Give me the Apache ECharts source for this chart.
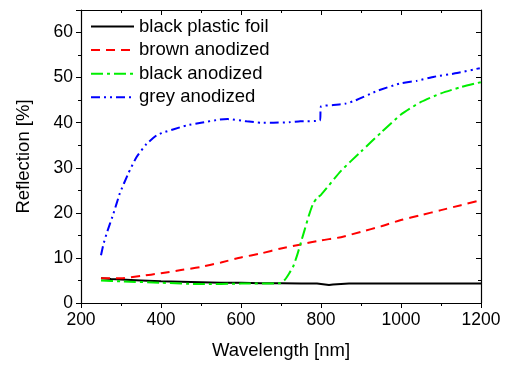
<!DOCTYPE html>
<html>
<head>
<meta charset="utf-8">
<script src="https://cdn.jsdelivr.net/npm/echarts@6/dist/echarts.min.js"></script>
<style>
  html, body { margin: 0; padding: 0; background: #fff; }
  #chart { width: 508px; height: 365px; }
</style>
</head>
<body>
<div id="chart"></div>
<script>
// 图例名称
var seriesNames = ['black plastic foil', 'brown anodized', 'black anodized', 'grey anodized'];

// black plastic foil
var foilX = [250, 275, 300, 350, 400, 450, 500, 550, 600, 650, 700, 750, 790, 800, 805, 810, 820, 830, 850, 870, 900, 950, 1000, 1050, 1100, 1150, 1200];
var foilY = [5.5, 5.3, 5.2, 5.0, 4.8, 4.7, 4.6, 4.5, 4.5, 4.4, 4.4, 4.3, 4.3, 4.2, 4.0, 4.1, 4.0, 4.1, 4.2, 4.3, 4.3, 4.3, 4.3, 4.3, 4.3, 4.3, 4.3];

// brown anodized
var brownX = [250, 300, 350, 400, 450, 500, 550, 600, 650, 700, 750, 800, 850, 900, 950, 1000, 1050, 1100, 1150, 1200];
var brownY = [5.5, 5.5, 6.0, 6.6, 7.3, 8.0, 9.0, 10.1, 11.0, 12.1, 13.0, 13.9, 14.6, 15.8, 17.0, 18.4, 19.5, 20.6, 21.7, 22.8];

// black anodized
var blackX = [250, 300, 400, 500, 600, 700, 710, 720, 730, 740, 750, 760, 770, 780, 790, 800, 850, 900, 950, 1000, 1050, 1100, 1150, 1200];
var blackY = [5.0, 4.8, 4.5, 4.2, 4.3, 4.4, 5.2, 6.5, 8.0, 10.5, 13.5, 16.5, 19.5, 22.0, 23.3, 24.0, 29.3, 33.6, 37.8, 41.8, 44.6, 46.5, 47.9, 49.0];

// grey anodized
var greyX = [250, 256, 264, 281, 297, 318, 339, 364, 389, 405, 430, 464, 500, 547, 567, 614, 650, 681, 720, 748, 797, 800, 831, 860, 885, 939, 997, 1040, 1083, 1140, 1197];
var greyY = [10.6, 13.0, 15.4, 19.8, 24.3, 28.7, 32.4, 35.3, 37.2, 37.8, 38.5, 39.4, 40.0, 40.7, 40.8, 40.3, 40.0, 40.0, 40.1, 40.3, 40.5, 43.6, 43.9, 44.2, 44.9, 47.0, 48.7, 49.3, 50.2, 51.0, 52.1];

// 坐标轴刻度
var xTicks = { min: 200, max: 1200, interval: 200 };
var yTicks = { min: 0, max: 65, interval: 10 };

function pairs(xs, ys) {
	var out = [];
	for (var i = 0; i < xs.length; i++) {
		out.push([xs[i], ys[i]]);
	}
	return out;
}

var myChart = echarts.init(document.getElementById('chart'), null, { renderer: 'canvas' });

var font = 'Liberation Sans, Arial, sans-serif';
var axisLine = { show: true, onZero: false, lineStyle: { color: '#000', width: 1.2 } };
// 不要千分位
var plain = function (v) { return String(v); };

var option = {
	animation: false,
	backgroundColor: '#fff',
	textStyle: { fontFamily: font, color: '#000' },
	grid: { left: 81, right: 27, top: 10, bottom: 62 },
	legend: {
		orient: 'vertical',
		left: 90,
		top: 17,
		padding: 0,
		itemWidth: 43,
		itemHeight: 14,
		itemGap: 4.6,
		itemStyle: { opacity: 0 },
		textStyle: { fontSize: 18.5, fontFamily: font, color: '#000' },
		data: seriesNames
	},
	xAxis: [{
		type: 'value',
		min: xTicks.min, max: xTicks.max, interval: xTicks.interval,
		name: 'Wavelength [nm]',
		nameLocation: 'middle',
		nameGap: 38,
		nameTextStyle: { fontSize: 18.5, fontFamily: font, color: '#000' },
		axisLine: axisLine,
		axisTick: { show: true, length: 5, lineStyle: { color: '#000' } },
		minorTick: { show: true, splitNumber: 2, length: 3, lineStyle: { color: '#000' } },
		axisLabel: { fontSize: 17.5, margin: 8, color: '#000', fontFamily: font, formatter: plain },
		splitLine: { show: false }
	}, {
		type: 'value',
		position: 'top',
		min: xTicks.min, max: xTicks.max, interval: xTicks.interval,
		axisLine: axisLine,
		axisTick: { show: true, inside: true, length: 5, lineStyle: { color: '#000' } },
		minorTick: { show: true, splitNumber: 2, length: 3, lineStyle: { color: '#000' } },
		axisLabel: { show: false },
		splitLine: { show: false }
	}],
	yAxis: [{
		type: 'value',
		min: yTicks.min, max: yTicks.max, interval: yTicks.interval,
		name: 'Reflection [%]',
		nameLocation: 'middle',
		nameGap: 48,
		nameTextStyle: { fontSize: 18.5, fontFamily: font, color: '#000' },
		axisLine: axisLine,
		axisTick: { show: true, length: 5, lineStyle: { color: '#000' } },
		minorTick: { show: true, splitNumber: 2, length: 3, lineStyle: { color: '#000' } },
		axisLabel: { fontSize: 17.5, margin: 8, color: '#000', fontFamily: font, showMaxLabel: false, formatter: plain },
		splitLine: { show: false }
	}, {
		type: 'value',
		position: 'right',
		min: yTicks.min, max: yTicks.max, interval: yTicks.interval,
		axisLine: axisLine,
		axisTick: { show: true, inside: true, length: 5, lineStyle: { color: '#000' } },
		minorTick: { show: true, splitNumber: 2, length: 3, lineStyle: { color: '#000' } },
		axisLabel: { show: false },
		splitLine: { show: false }
	}],
	series: [{
		name: seriesNames[0],
		type: 'line',
		symbol: 'none',
		color: '#000',
		lineStyle: { color: '#000', width: 2, type: 'solid' },
		data: pairs(foilX, foilY)
	}, {
		name: seriesNames[1],
		type: 'line',
		symbol: 'none',
		smooth: 0.2,
		color: '#ff0000',
		lineStyle: { color: '#ff0000', width: 2, type: [9, 6] },
		data: pairs(brownX, brownY)
	}, {
		name: seriesNames[2],
		type: 'line',
		symbol: 'none',
		smooth: 0.2,
		color: '#00ee00',
		lineStyle: { color: '#00ee00', width: 2, type: [12, 4, 3, 4] },
		data: pairs(blackX, blackY)
	}, {
		name: seriesNames[3],
		type: 'line',
		symbol: 'none',
		smooth: 0.15,
		color: '#0000ff',
		lineStyle: { color: '#0000ff', width: 2, type: [9, 4, 2, 4, 2, 4] },
		data: pairs(greyX, greyY)
	}]
};

myChart.setOption(option);
</script>
</body>
</html>
